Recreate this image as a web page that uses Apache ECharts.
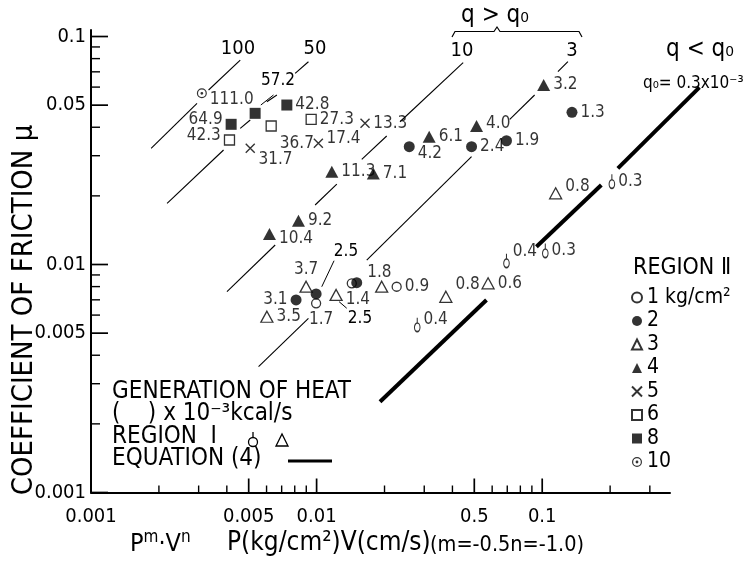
<!DOCTYPE html>
<html><head><meta charset="utf-8">
<script src="https://cdn.jsdelivr.net/npm/echarts@6/dist/echarts.min.js"></script>
<style>html,body{margin:0;padding:0;background:#fff}#c{width:748px;height:564px}</style>
</head><body><div id="c"></div>
<script>
// ---- data (x = P^m V^n, y = coefficient of friction, q = heat x10^-3 kcal/s) ----
const kg1X = [0.00995, 0.01432, 0.02264];
const kg1Y = [0.00676, 0.00827, 0.00799];
const kg1Q = ['1.7', '', '0.9'];
const kg2X = [0.00811, 0.00995, 0.01506, 0.02574, 0.04862, 0.06944, 0.1355];
const kg2Y = [0.00699, 0.00743, 0.00832, 0.03286, 0.03286, 0.0349, 0.0465];
const kg2Q = ['3.1', '2.5', '1.8', '4.2', '2.4', '1.9', '1.3'];
const kg3X = [0.00898, 0.00602, 0.0122, 0.01943, 0.0374, 0.05755, 0.1147];
const kg3Y = [0.00799, 0.0059, 0.00735, 0.00799, 0.00722, 0.00827, 0.02053];
const kg3Q = ['3.7', '3.5', '1.4', '', '0.8', '0.6', '0.8'];
const kg4X = [0.00618, 0.00831, 0.01168, 0.01784, 0.03155, 0.05116, 0.1015];
const kg4Y = [0.0136, 0.01556, 0.02553, 0.0251, 0.03635, 0.0405, 0.0613];
const kg4Q = ['10.4', '9.2', '11.3', '7.1', '6.1', '4.0', '3.2'];
const kg5X = [0.00508, 0.01018, 0.01639];
const kg5Y = [0.03233, 0.034, 0.04162];
const kg5Q = ['31.7', '17.4', '13.3'];
const kg6X = [0.00411, 0.00629, 0.00946];
const kg6Y = [0.03516, 0.0405, 0.04333];
const kg6Q = ['42.3', '36.7', '27.3'];
const kg8X = [0.00418, 0.00534, 0.00738];
const kg8Y = [0.0412, 0.04603, 0.05006];
const kg8Q = ['64.9', '57.2', '42.8'];
const kg10X = [0.0031];
const kg10Y = [0.05636];
const kg10Q = ['111.0'];
const reg1X = [0.02793, 0.06944, 0.1032, 0.2036];
const reg1Y = [0.0053, 0.01012, 0.0112, 0.02254];
const reg1Q = ['0.4', '0.4', '0.3', '0.3'];

// constant heat-generation lines (segments, null = break)
const line100 = [[0.001847,0.03233],[0.002951,0.05093],null,[0.00332,0.05826],[0.004587,0.07885]];
const line50 = [[0.002174,0.01855],[0.003869,0.03178],null,[0.004587,0.03957],[0.005079,0.04303],null,[0.006018,0.05176],[0.006668,0.0554],null,[0.008033,0.06896],[0.0092,0.07752]];
const line10 = [[0.004006,0.0076],[0.006553,0.01218],null,[0.009849,0.01824],[0.01229,0.02254],null,[0.01585,0.02893],[0.02045,0.03661],null,[0.02342,0.04229],[0.04463,0.07675]];
const line3 = [[0.00553,0.003563],[0.0092,0.0058],null,[0.01668,0.01046],[0.04862,0.02971],null,[0.07181,0.04333],[0.09255,0.0554],null,[0.1174,0.07008],[0.13,0.07752]];
const eq4 = [[0.0191,0.0025],[0.05662,0.00699],null,[0.09425,0.01197],[0.1828,0.02232],null,[0.2164,0.02641],[0.4976,0.05985]];
const arrow572 = [[0.00644,0.0554],[0.00566,0.05006]];
const arrow25a = [[0.01195,0.01039],[0.01054,0.00799]];
const arrow25b = [[0.0136,0.00643],[0.01258,0.00687]];

// axis ticks
const xMin = 0.001, xMax = 0.3685, yMin = 0.001, yMax = 0.1068;
const xMajor = [0.001, 0.005, 0.01, 0.05, 0.1];
const xMajorLabels = ['0.001', '0.005', '0.01', '0.5', '0.1'];
const xMinor = [0.002,0.003,0.004,0.006,0.007,0.008,0.009,0.02,0.03,0.04,0.06,0.07,0.08,0.09,0.2,0.3];
const yMajor = [0.001, 0.005, 0.01, 0.05, 0.1];
const yMajorLabels = ['0.001', '0.005', '0.01', '0.05', '0.1'];
const yMinor = [0.002,0.003,0.004,0.006,0.007,0.008,0.009,0.02,0.03,0.04,0.06,0.07,0.08,0.09];

// ---- presentation ----
const FONT = "'DejaVu Sans Condensed','DejaVu Sans',sans-serif";
const labelTweak = {
  kg10_0:['right',0,6], kg8_0:['left',0,-5], kg8_1:'hide', kg6_0:['left',0,-4], kg6_1:['right',0,18],
  kg5_0:['right',0,11], kg5_1:['right',0,-5], kg4_0:['right',0,5], kg4_5:['right',0,-2],
  kg3_0:['top',0,0], kg3_2:['right',0,5], kg3_4:['right',0,-12], kg3_6:['right',0,-7],
  kg2_0:['left',0,0], kg2_1:'hide', kg2_2:['right',2,-10], kg2_3:['right',0,7], kg1_0:['bottom',5,0],
  reg1_0:['right',0,-5], reg1_1:['right',0,-9]
};
function pts(key, xs, ys, qs) {
  return xs.map((x, i) => {
    const item = { value: [x, ys[i], qs[i]] };
    const t = labelTweak[key + '_' + i];
    if (!qs[i] || t === 'hide') item.label = { show: false };
    else if (t) item.label = { position: t[0], offset: [t[1], t[2]] };
    return item;
  });
}
function segs(points) {
  const out = []; let cur = [];
  points.forEach(p => { if (p === null) { if (cur.length) out.push({coords: cur}); cur = []; } else cur.push(p); });
  if (cur.length) out.push({coords: cur});
  return out;
}
const ring = 'path://M10,0A10,10,0,1,1,-10,0A10,10,0,1,1,10,0ZM7.6,0A7.6,7.6,0,1,0,-7.6,0A7.6,7.6,0,1,0,7.6,0ZM2.8,0A2.8,2.8,0,1,1,-2.8,0A2.8,2.8,0,1,1,2.8,0Z';
const stemCircle = 'path://M0,-9L0,-4M4,0A4,4,0,1,1,-4,0A4,4,0,1,1,4,0Z';
const cross = 'path://M0,0L10,10M10,0L0,10';
const open = { color: '#fff', borderColor: '#000', borderWidth: 1.3 };
const filled = { color: '#000' };
const lbl = { show: true, position: 'right', distance: 3, color: '#000', fontSize: 17, fontFamily: FONT,
  formatter: p => p.value[2] };

function scatter(name, key, xs, ys, qs, symbol, size, style, extra) {
  return Object.assign({ type: 'scatter', name, symbol, symbolSize: size, itemStyle: style,
    label: lbl, data: pts(key, xs, ys, qs), z: 5, silent: true }, extra || {});
}
function lineSeries(points, width, extra) {
  return Object.assign({ type: 'lines', coordinateSystem: 'cartesian2d', polyline: true, silent: true,
    lineStyle: { color: '#000', width, opacity: 1 }, data: segs(points), z: 2, clip: false }, extra || {});
}
const fmt = (ticks, labels) => v => { const i = ticks.findIndex(t => Math.abs(Math.log10(t) - Math.log10(v)) < 1e-6); return i >= 0 ? labels[i] : ''; };
const axisText = { color: '#000', fontSize: 20, fontFamily: FONT };

const txt = (x, y, text, size, align, extra) => Object.assign({ type: 'text', x, y, silent: true,
  style: { text, fill: '#000', font: `${size}px ${FONT}`, align: align || 'left', verticalAlign: 'middle' } }, extra || {});
const baseGraphic = [
  txt(24, 310, 'COEFFICIENT OF FRICTION μ', 29, 'center', { rotation: Math.PI / 2 }),
  { type: 'text', x: 130, y: 543, silent: true, style: { text: '{p|P}{s|m}{p|·V}{s|n}', fill: '#000', align: 'left', verticalAlign: 'middle',
    rich: { p: { fontSize: 25, fontFamily: FONT, lineHeight: 28, verticalAlign: 'bottom', fill: '#000' },
            s: { fontSize: 17, fontFamily: FONT, lineHeight: 28, verticalAlign: 'top', fill: '#000' } } } },
  txt(227, 543, 'P(kg/cm²)V(cm/s)', 26),
  txt(430, 545, '(m=-0.5n=-1.0)', 21.5),
  txt(112, 391.5, 'GENERATION OF HEAT', 24),
  txt(112, 414, '(    ) x 10⁻³kcal/s', 24),
  txt(112, 437, 'REGION  Ⅰ', 24),
  { type: 'circle', shape: { cx: 253, cy: 442, r: 4.5 }, style: { fill: '#fff', stroke: '#000', lineWidth: 1.3 } },
  { type: 'line', shape: { x1: 253, y1: 432, x2: 253, y2: 437.5 }, style: { stroke: '#000', lineWidth: 1.3 } },
  { type: 'polygon', shape: { points: [[276, 446], [288, 446], [282, 434]] }, style: { fill: '#fff', stroke: '#000', lineWidth: 1.3 } },
  txt(112, 459, 'EQUATION (4)', 24),
  { type: 'line', shape: { x1: 288, y1: 461, x2: 332, y2: 461 }, style: { stroke: '#000', lineWidth: 3 } },
  txt(633, 268, 'REGION Ⅱ', 23),
  txt(238, 49, '100', 20, 'center'),
  txt(315, 49, '50', 20, 'center'),
  txt(462, 51, '10', 20, 'center'),
  txt(572, 51, '3', 20, 'center'),
  txt(278, 81, '57.2', 17, 'center'),
  txt(346, 252, '2.5', 17, 'center'),
  txt(360, 319, '2.5', 17, 'center'),
  txt(495, 16, 'q > q₀', 24, 'center'),
  { type: 'polyline', shape: { points: [[452, 37], [455, 31.5], [494, 31.5], [497, 27], [500, 31.5], [579, 31.5], [582, 37]] }, style: { stroke: '#000', lineWidth: 1.2, fill: null } },
  txt(700, 50, 'q < q₀', 24, 'center'),
  txt(643, 84, 'q₀= 0.3x10⁻³', 17)
];

const chart = echarts.init(document.getElementById('c'), null, { renderer: 'canvas' });
chart.setOption({
  animation: false,
  backgroundColor: '#fff',
  grid: { left: 91, right: 78, top: 30, bottom: 71.5 },
  xAxis: { type: 'log', logBase: 10, min: xMin, max: xMax, position: 'bottom',
    axisLine: { show: true, onZero: false, lineStyle: { color: '#000', width: 2 } },
    axisTick: { show: false },
    axisLabel: Object.assign({ customValues: xMajor, margin: 14, formatter: fmt(xMajor, xMajorLabels) }, axisText),
    splitLine: { show: false }, minorTick: { show: false } },
  yAxis: { type: 'log', logBase: 10, min: yMin, max: yMax, position: 'left',
    axisLine: { show: true, onZero: false, lineStyle: { color: '#000', width: 2 } },
    axisTick: { show: false },
    axisLabel: Object.assign({ customValues: yMajor, margin: 5, formatter: fmt(yMajor, yMajorLabels) }, axisText),
    splitLine: { show: false } },
  legend: {
    orient: 'vertical', left: 626, top: 282, itemWidth: 10, itemHeight: 10, itemGap: 2.5,
    selectedMode: false, padding: 5,
    textStyle: { color: '#000', fontSize: 21, fontFamily: FONT },
    data: ['1 kg/cm²', '2', '3', '4', '5', '6', '8', '10']
  },
  series: [
    lineSeries(line100, 1.1), lineSeries(line50, 1.1), lineSeries(line10, 1.1), lineSeries(line3, 1.1),
    lineSeries(eq4, 4),
    lineSeries(arrow572, 1, { symbol: ['none', 'arrow'], symbolSize: 7 }),
    lineSeries(arrow25a, 1, { symbol: ['none', 'arrow'], symbolSize: 7 }),
    lineSeries(arrow25b, 1, { symbol: ['none', 'arrow'], symbolSize: 7 }),
    scatter('1 kg/cm²', 'kg1', kg1X, kg1Y, kg1Q, 'circle', 9, open),
    scatter('2', 'kg2', kg2X, kg2Y, kg2Q, 'circle', 11, filled),
    scatter('3', 'kg3', kg3X, kg3Y, kg3Q, 'triangle', [12, 11], open),
    scatter('4', 'kg4', kg4X, kg4Y, kg4Q, 'triangle', [13, 12], filled),
    scatter('5', 'kg5', kg5X, kg5Y, kg5Q, cross, 9, { color: 'transparent', borderColor: '#000', borderWidth: 1.4 }),
    scatter('6', 'kg6', kg6X, kg6Y, kg6Q, 'rect', 10, open),
    scatter('8', 'kg8', kg8X, kg8Y, kg8Q, 'rect', 11, filled),
    scatter('10', 'kg10', kg10X, kg10Y, kg10Q, ring, 10, filled),
    scatter('Region I', 'reg1', reg1X, reg1Y, reg1Q, stemCircle, [9, 14], open, { symbolKeepAspect: true, symbolOffset: [0, -2.7] })
  ],
  graphic: baseGraphic
});

// inward axis ticks, positioned through the axes' own scales
const tickEls = [];
function addTicks(dim, values, len, w) {
  values.forEach(v => {
    const p = chart.convertToPixel({ xAxisIndex: 0, yAxisIndex: 0 }, dim === 'x' ? [v, yMin] : [xMin, v]);
    if (!p || !isFinite(p[0]) || !isFinite(p[1])) return;
    tickEls.push({ type: 'line', silent: true, z: 100,
      shape: dim === 'x' ? { x1: p[0], y1: p[1], x2: p[0], y2: p[1] - len } : { x1: p[0], y1: p[1], x2: p[0] + len, y2: p[1] },
      style: { stroke: '#000', lineWidth: w } });
  });
}
addTicks('x', xMajor, 14, 1.7); addTicks('x', xMinor, 7, 1.4);
addTicks('y', yMajor, 17, 1.7); addTicks('y', yMinor, 9, 1.4);
chart.setOption({ graphic: baseGraphic.concat(tickEls) });
</script></body></html>
